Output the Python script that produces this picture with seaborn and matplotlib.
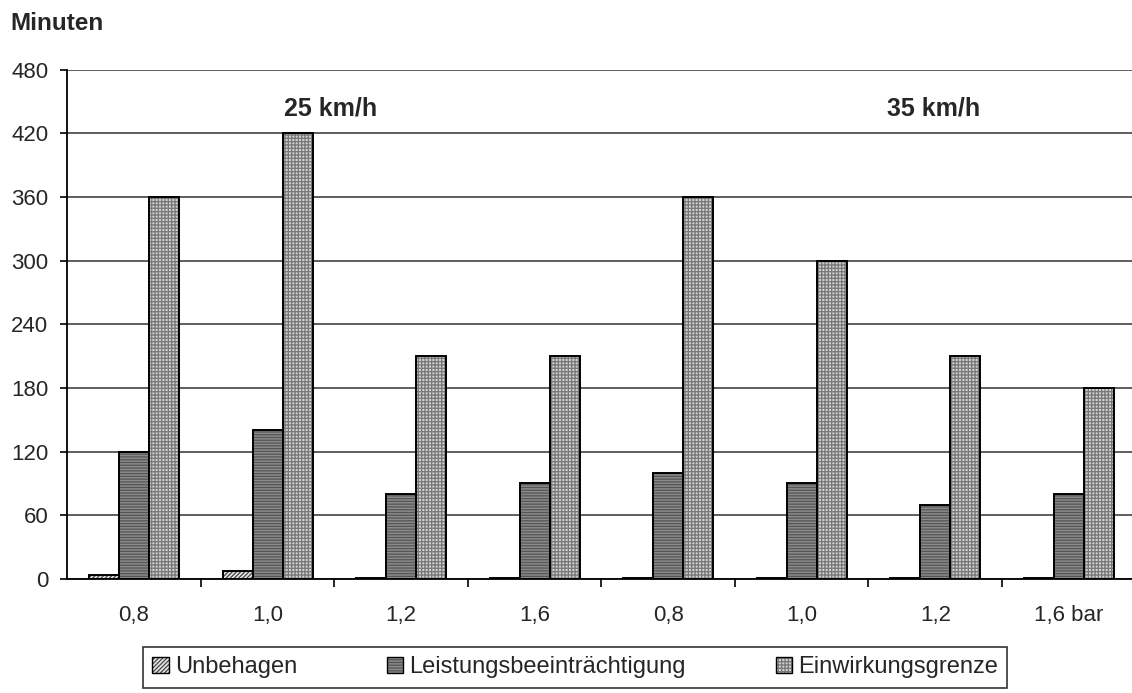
import matplotlib
matplotlib.use("Agg")
import matplotlib.pyplot as plt
import seaborn as sns
import pandas as pd
import numpy as np
from matplotlib.patches import Patch

categories = ["0,8", "1,0", "1,2", "1,6", "0,8", "1,0", "1,2", "1,6 bar"]
series_names = ["Unbehagen", "Leistungsbeeinträchtigung", "Einwirkungsgrenze"]
unbehagen = [4, 8, 1, 1, 1, 1, 1, 1]
leistung = [120, 140, 80, 90, 100, 90, 70, 80]
einwirkung = [360, 420, 210, 210, 360, 300, 210, 180]
yticks = [0, 60, 120, 180, 240, 300, 360, 420, 480]
speed_labels = ["25 km/h", "35 km/h"]

sns.set_theme(style="white")
plt.rcParams['font.family'] = ['Liberation Sans', 'DejaVu Sans']
plt.rcParams['hatch.linewidth'] = 0.9

rows = []
for i in range(len(categories)):
    for name, vals in zip(series_names, [unbehagen, leistung, einwirkung]):
        rows.append({"pos": i, "serie": name, "val": vals[i]})
df = pd.DataFrame(rows)

W, H = 1132, 693
fig = plt.figure(figsize=(W / 100, H / 100), dpi=100)
x0, x1, y0, y1 = 67.2, 1135.6, 69.5, 579
ax = fig.add_axes([x0 / W, 1 - y1 / H, (x1 - x0) / W, (y1 - y0) / H])

faces = ["#e6e6e6", "#8a8a8a", "#d0d0d0"]
hatches = ["////////", "------", "+++++"]
hatch_cols = ["#444444", "#555555", "#777777"]

sns.barplot(data=df, x="pos", y="val", hue="serie", hue_order=series_names,
            order=list(range(len(categories))), ax=ax, width=0.674,
            palette=faces, edgecolor="black", linewidth=1.4, saturation=1,
            legend=False)

for cont, h, hc in zip(ax.containers, hatches, hatch_cols):
    for bar in cont:
        bar.set_hatch(h)
        bar._hatch_color = matplotlib.colors.to_rgba(hc)

ax.set_ylim(0, 480)
ax.set_xlim(-0.5, len(categories) - 0.5)
ax.set_yticks(yticks)
ax.set_yticklabels([str(t) for t in yticks], fontsize=16)
ax.set_xticks(range(len(categories)))
ax.set_xticklabels(categories, fontsize=16)
ax.set_xticks(np.arange(0.5, len(categories) - 0.5, 1), minor=True)
ax.tick_params(axis="x", which="major", length=0, pad=19)
ax.tick_params(axis="x", which="minor", length=5.7, width=1.2, color="black", direction="out", bottom=True)
ax.tick_params(axis="y", length=5, width=1.2, color="black", direction="out", left=True, pad=8.6)
ax.set_xlabel("")
ax.set_ylabel("")

ax.yaxis.grid(True, color="#333333", linewidth=1.1)
ax.set_axisbelow(True)
for s in ["top", "right"]:
    ax.spines[s].set_visible(False)
for s in ["left", "bottom"]:
    ax.spines[s].set_color("black")
    ax.spines[s].set_linewidth(1.3)

ax.text(1.47, 437, speed_labels[0], ha="center", va="baseline", fontsize=18, fontweight="bold")
ax.text(5.99, 437, speed_labels[1], ha="center", va="baseline", fontsize=18, fontweight="bold")

fig.text(10 / W, 1 - 30 / H, "Minuten", ha="left", va="baseline", fontsize=17.5, fontweight="bold")

handles = []
for f, h, hc in zip(faces, hatches, hatch_cols):
    p = Patch(facecolor=f, edgecolor="black", hatch=h, linewidth=1)
    p._hatch_color = matplotlib.colors.to_rgba(hc)
    handles.append(p)
leg = fig.legend(handles, series_names, loc="upper left", ncol=3,
                 bbox_to_anchor=(143 / W, 1 - 647 / H), fontsize=17,
                 frameon=True, fancybox=False, edgecolor="black",
                 handlelength=0.7, handleheight=0.7, handletextpad=0.25,
                 columnspacing=3.8, borderpad=0.4, borderaxespad=0)
leg.get_frame().set_linewidth(1.2)

fig.savefig("out.png", dpi=100)
